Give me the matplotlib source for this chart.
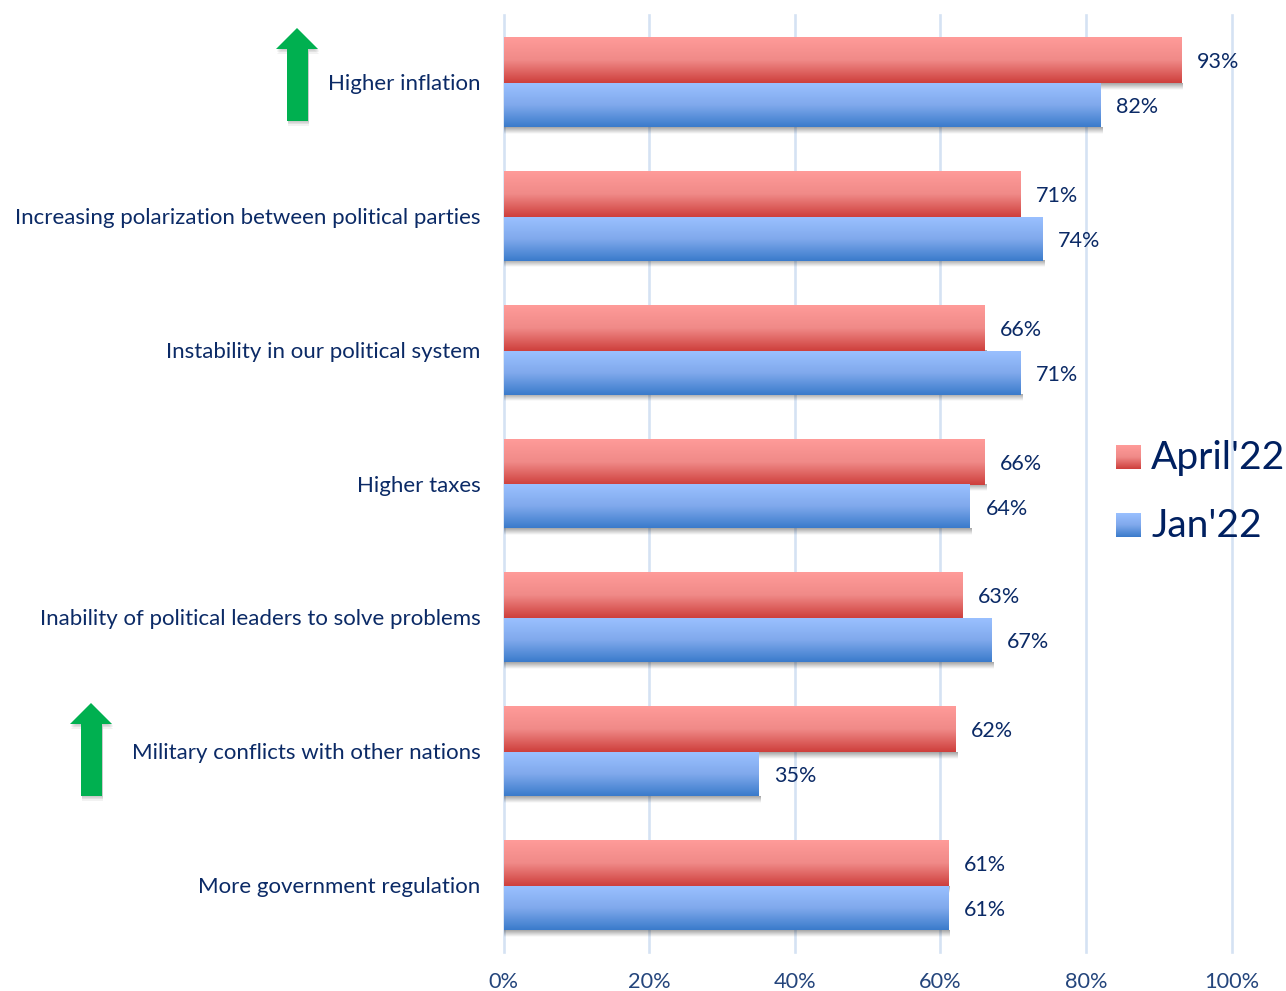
import numpy as np
import matplotlib
matplotlib.use('Agg')
import matplotlib.pyplot as plt
from matplotlib.colors import LinearSegmentedColormap
from matplotlib.patches import Polygon

# values
categories = ['Higher inflation',
              'Increasing polarization between political parties',
              'Instability in our political system',
              'Higher taxes',
              'Inability of political leaders to solve problems',
              'Military conflicts with other nations',
              'More government regulation']
april_22 = [93, 71, 66, 66, 63, 62, 61]
jan_22 = [82, 74, 71, 64, 67, 35, 61]
x_ticks = [0, 20, 40, 60, 80, 100]

W, H = 1286, 991
plt.rcParams['font.family'] = ['Lato', 'DejaVu Sans']
navy = '#0B2A66'
red_map = LinearSegmentedColormap.from_list('r', ['#FF9B99', '#F08A88', '#CE3F3C'])
blue_map = LinearSegmentedColormap.from_list('b', ['#9AC0FF', '#80A9EC', '#3A7BCB'])
shade_map = LinearSegmentedColormap.from_list('s', [(0, 0, 0, 0.36), (0, 0, 0, 0)])
ramp = np.linspace(0, 1, 128).reshape(-1, 1)

fig = plt.figure(figsize=(W / 100, H / 100), dpi=100)
ax = fig.add_axes([503.5 / W, 1 - 952 / H, (1231.5 - 503.5) / W, (952 - 15) / H])

y = np.arange(len(categories))
h_red = 0.343
h_blue = 0.328
split = 0.008


def gradient_bars(bars, cmap, z):
    # paint each bar with a vertical gradient, plus a soft shadow under it
    for b in bars:
        x0, x1 = b.get_x(), b.get_x() + b.get_width()
        y0, y1 = b.get_y(), b.get_y() + b.get_height()
        ax.imshow(ramp, cmap=cmap, extent=(x0, x1, y1, y0), aspect='auto',
                  vmin=0, vmax=1, zorder=z)
        ax.imshow(ramp, cmap=shade_map, extent=(x0, x1 + 0.25, y1 + 0.05, y1), aspect='auto',
                  vmin=0, vmax=1, zorder=2)


red = ax.barh(y + split - h_red / 2, april_22, height=h_red, color='none')
blue = ax.barh(y + split + h_blue / 2, jan_22, height=h_blue, color='none')
gradient_bars(red, red_map, 3)
gradient_bars(blue, blue_map, 4)

for vals, off in [(april_22, -h_red / 2), (jan_22, h_blue / 2)]:
    for i, v in enumerate(vals):
        ax.annotate(f'{v}%', (v, i + off), xytext=(11.5, -2.2), textcoords='offset points',
                    va='center', ha='left', fontsize=15.5, color=navy, zorder=5)

ax.set_xlim(0, 100)
ax.set_ylim(len(categories) - 0.5, -0.5)
ax.set_xticks(x_ticks)
ax.set_xticklabels([f'{t}%' for t in x_ticks], fontsize=15.7, color='#24457C')
ax.set_yticks(y)
ax.set_yticklabels(categories, fontsize=16, color=navy, va='center_baseline')
ax.tick_params(axis='both', length=0)
ax.tick_params(axis='y', pad=16.5)
ax.tick_params(axis='x', pad=14.5)
ax.grid(True, axis='x', color='#D5E2F3', lw=1.9, zorder=1)
for line in ax.get_xgridlines():
    line.set_clip_on(False)
ax.set_axisbelow(True)
for s in ax.spines.values():
    s.set_visible(False)
ax.patch.set_alpha(0)

# overlay in pixel coordinates for arrows and legend
ov = fig.add_axes([0, 0, 1, 1], zorder=10)
ov.set_xlim(0, W)
ov.set_ylim(H, 0)
ov.axis('off')
ov.patch.set_alpha(0)


def up_arrow(cx, top):
    pts = [(cx, top), (cx + 21, top + 21), (cx + 11, top + 21), (cx + 11, top + 93),
           (cx - 10, top + 93), (cx - 10, top + 21), (cx - 21, top + 21)]
    for grow, alpha in [(5, 0.05), (3, 0.07), (1.5, 0.09)]:
        shadow = [(px + 1, py + grow) for px, py in pts]
        ov.add_patch(Polygon(shadow, closed=True, fc='#000000', alpha=alpha, ec='none'))
    ov.add_patch(Polygon(pts, closed=True, fc='#00B050', ec='none'))


up_arrow(297, 28)
up_arrow(91, 703)

for name, cmap, top in [("April'22", red_map, 445), ("Jan'22", blue_map, 513)]:
    ov.imshow(ramp, cmap=cmap, extent=(1116, 1141, top + 24, top), aspect='auto', vmin=0, vmax=1)
    ov.text(1151, top + 13, name, fontsize=28, color='#002060', va='center', ha='left')
ov.set_xlim(0, W)
ov.set_ylim(H, 0)

fig.savefig('out.png', dpi=100)
